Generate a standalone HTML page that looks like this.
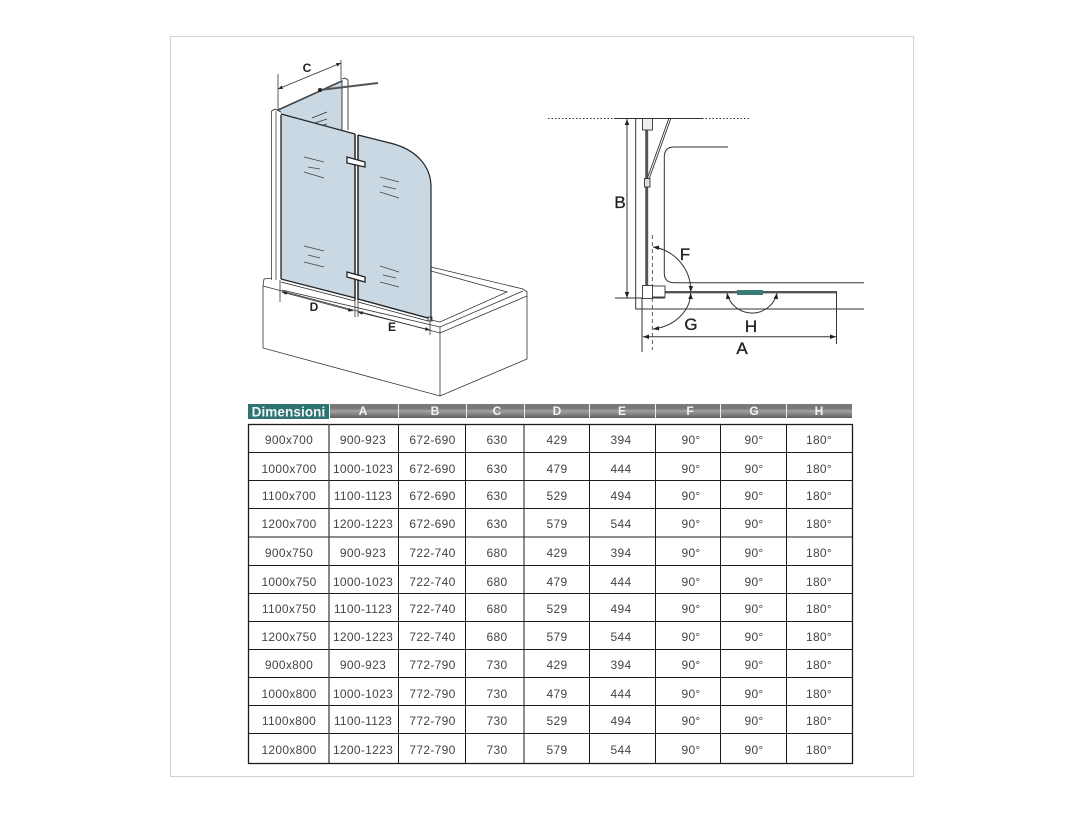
<!DOCTYPE html>
<html>
<head>
<meta charset="utf-8">
<style>
html,body{margin:0;padding:0;background:#fff}
svg{display:block;filter:blur(.3px)}
text{font-family:"Liberation Sans",Arial,sans-serif}
.t text{font-size:12px;fill:#444;text-anchor:middle;letter-spacing:.3px}
.h text{font-size:12px;font-weight:bold;fill:#f4f4f4;text-anchor:middle}
.l{font-size:17px;fill:#222;stroke:#222;stroke-width:.35;text-anchor:middle}
.s{font-size:12px;font-weight:bold;fill:#222;text-anchor:middle}
</style>
</head>
<body>
<svg width="1084" height="813" viewBox="0 0 1084 813" xmlns="http://www.w3.org/2000/svg">
<defs>
<linearGradient id="hd" x1="0" y1="0" x2="0" y2="1">
<stop offset="0" stop-color="#7a7a7a"/><stop offset=".3" stop-color="#777"/><stop offset=".5" stop-color="#a0a0a0"/><stop offset=".65" stop-color="#8d8d8d"/><stop offset="1" stop-color="#5e5e5e"/>
</linearGradient>
<marker id="ar" viewBox="0 0 8 6" refX="8" refY="3" markerWidth="6" markerHeight="5" orient="auto-start-reverse"><path d="M0 0L8 3L0 6z" fill="#222"/></marker>
</defs>
<rect x="170.5" y="36.5" width="743" height="740" fill="#fff" stroke="#d2d2d2" stroke-width="1"/>

<!-- left drawing: tub -->
<g fill="none" stroke="#333" stroke-width=".8">
<path d="M263 286V348L440 396L527 359V296"/>
<path d="M440 333V396"/>
<path d="M263 286L440 333L527 296L527 292L523 289L431 267"/>
<path d="M263 286L264 279L272 278"/>
<path d="M282 290L440 327L523 291"/>
<path d="M431 271L507 292L440 322L431 320"/>
<path d="M440 333L440 327"/>
</g>
<!-- back panel -->
<polygon points="278,110 342,82 342,131 281,115" fill="#c9d8e3"/>
<g stroke="#333" stroke-width=".7" fill="none">
<path d="M312 118L327 112M315 123L327 119M320 126L327 124"/>
</g>
<g fill="none" stroke="#333" stroke-width=".9">
<path d="M342 80V131M348 80V130M342 79L345 78L348 80"/>
</g>
<path d="M278 110L342 81" stroke="#444" stroke-width="1.6" fill="none"/>
<path d="M320 90L378 83" stroke="#555" stroke-width="2" fill="none"/>
<circle cx="320" cy="90" r="2" fill="#222"/>
<!-- front panels -->
<polygon points="281,115 355,134 355,298 281,278" fill="#c9d8e3"/>
<path d="M358 135L390 143C415 149 431 165 431 187V320L358 299Z" fill="#c9d8e3"/>
<g fill="none" stroke="#222">
<path d="M281 114L355 134" stroke-width="1.2"/>
<path d="M358 135L390 143C415 149 431 165 431 187V320" stroke-width="1.2"/>
<path d="M281 115V279" stroke-width="1.3"/>
<path d="M355 134V300" stroke-width="1.5"/>
<path d="M358 135V300" stroke-width="1.5"/>
<path d="M271.5 111V280M276 111V280" stroke-width=".9" stroke="#555"/>
<path d="M271.5 111L275 109L281 112" stroke-width=".9"/>
<path d="M281 279L355 298" stroke-width="1.4"/>
<path d="M281 282L355 301" stroke-width=".7"/>
<path d="M358 299L428 318" stroke-width="1.4"/>
<path d="M358 302L428 321" stroke-width=".7"/>
<path d="M428 317h4v4h-4z" stroke-width=".8"/>
</g>
<!-- hash marks -->
<g stroke="#444" stroke-width=".8" fill="none">
<path d="M304 157L324 162M308 167L320 169M304 172L324 178"/>
<path d="M380 177L399 182M383 186L396 189M380 192L399 198"/>
<path d="M304 246L324 251M308 255L320 258M304 262L324 267"/>
<path d="M380 266L399 272M383 275L396 278M380 282L399 287"/>
</g>
<!-- hinges -->
<g fill="#fff" stroke="#222" stroke-width="1.3">
<polygon points="347,157 365,162 365,167 347,163"/>
<polygon points="347,272 365,277 365,282 347,277"/>
</g>
<!-- left dims -->
<g stroke="#333" stroke-width=".8" fill="none">
<path d="M278 74V110M341 60V80"/>
<path d="M278 89L341 63" marker-start="url(#ar)" marker-end="url(#ar)"/>
<path d="M280 280V302M355 300V317M358 300V317M430 320V335"/>
<path d="M282 292L353 311" marker-start="url(#ar)" marker-end="url(#ar)"/>
<path d="M358 312L430 330" marker-start="url(#ar)" marker-end="url(#ar)"/>
</g>
<text class="s" x="307" y="72">C</text>
<text class="s" x="314" y="311">D</text>
<text class="s" x="392" y="331">E</text>

<!-- right drawing -->
<g fill="none" stroke="#333" stroke-width="1">
<path d="M548 118.5H750" stroke-dasharray="1.5 2" stroke-width="1"/>
<path d="M614 118.5H702"/>
<path d="M635.7 118V309H864" stroke-width="1"/>
<path d="M728 147H674Q664.3 147 664.3 157V273Q664.3 282.7 674 282.7H864" stroke-width="1"/>
<path d="M627 119V298" marker-start="url(#ar)" marker-end="url(#ar)"/>
<path d="M615 298H665"/>
<path d="M646.7 130V285" stroke="#555" stroke-width="3"/>
<path d="M669 118L646 182M671 118L648 182" stroke-width=".9"/>
<path d="M665 292.2H837" stroke="#555" stroke-width="2.4"/>
<path d="M652.3 235V350" stroke-dasharray="4 3" stroke-width=".8"/>
<path d="M642 298V352M836.5 292V344"/>
<path d="M643 336.7H836" marker-start="url(#ar)" marker-end="url(#ar)"/>
<path d="M653 247A44 44 0 0 1 690.7 292" marker-start="url(#ar)" marker-end="url(#ar)"/>
<path d="M690.7 293A44 37 0 0 1 653 329" marker-start="url(#ar)" marker-end="url(#ar)"/>
<path d="M727 293A25.5 25 0 0 0 777 293" marker-start="url(#ar)" marker-end="url(#ar)"/>
</g>
<g fill="#fff" stroke="#333" stroke-width=".9">
<rect x="642.5" y="118.5" width="10" height="11.5" fill="#eee"/>
<rect x="644.5" y="178.5" width="5.5" height="8.5" fill="#ddd"/>
<rect x="652" y="286" width="13" height="11"/>
<rect x="642.5" y="285.5" width="10" height="13"/>
</g>
<rect x="737" y="290" width="26" height="5" fill="#3a7a78"/>
<text class="l" x="620" y="208">B</text>
<text class="l" x="685" y="260">F</text>
<text class="l" x="691" y="330">G</text>
<text class="l" x="751" y="332">H</text>
<text class="l" x="742" y="354">A</text>

<!-- table header -->
<rect x="330" y="404" width="522" height="14" fill="url(#hd)"/>
<rect x="248" y="404" width="81" height="15" fill="#2f7370"/>
<g stroke="#eee" stroke-width="1"><path d="M398.5 404V418M466.5 404V418M524.5 404V418M589.5 404V418M655.5 404V418M720.5 404V418M786.5 404V418"/></g>
<text x="288.5" y="416.5" font-size="13.5" font-weight="bold" fill="#f2f7f7" text-anchor="middle" letter-spacing=".1">Dimensioni</text>
<g class="h">
<text x="363" y="415">A</text><text x="435" y="415">B</text><text x="497" y="415">C</text><text x="557" y="415">D</text><text x="622" y="415">E</text><text x="690" y="415">F</text><text x="754" y="415">G</text><text x="819" y="415">H</text>
</g>

<!-- table grid -->
<g stroke="#1c1c1c" stroke-width="1" fill="none">
<rect x="248.5" y="424.5" width="604" height="339" stroke-width="1.3"/>
<path d="M248 452.5H852M248 480.5H852M248 508.5H852M248 537H852M248 565.5H852M248 593.5H852M248 621.5H852M248 649.5H852M248 677.5H852M248 705.5H852M248 733.5H852"/>
<path d="M329 424V763" stroke="#444" stroke-width="1.3"/>
<path d="M398.5 424V763M465.5 424V763M524 424V763M589.5 424V763M655.5 424V763M720.5 424V763M786.5 424V763"/>
</g>

<!-- table text -->
<g class="t">
<g transform="translate(0,444)"><text x="289">900x700</text><text x="363">900-923</text><text x="432.5">672-690</text><text x="497">630</text><text x="557">429</text><text x="621">394</text><text x="691">90°</text><text x="754">90°</text><text x="819">180°</text></g>
<g transform="translate(0,473)"><text x="289">1000x700</text><text x="363">1000-1023</text><text x="432.5">672-690</text><text x="497">630</text><text x="557">479</text><text x="621">444</text><text x="691">90°</text><text x="754">90°</text><text x="819">180°</text></g>
<g transform="translate(0,500)"><text x="289">1100x700</text><text x="363">1100-1123</text><text x="432.5">672-690</text><text x="497">630</text><text x="557">529</text><text x="621">494</text><text x="691">90°</text><text x="754">90°</text><text x="819">180°</text></g>
<g transform="translate(0,528)"><text x="289">1200x700</text><text x="363">1200-1223</text><text x="432.5">672-690</text><text x="497">630</text><text x="557">579</text><text x="621">544</text><text x="691">90°</text><text x="754">90°</text><text x="819">180°</text></g>
<g transform="translate(0,557)"><text x="289">900x750</text><text x="363">900-923</text><text x="432.5">722-740</text><text x="497">680</text><text x="557">429</text><text x="621">394</text><text x="691">90°</text><text x="754">90°</text><text x="819">180°</text></g>
<g transform="translate(0,586)"><text x="289">1000x750</text><text x="363">1000-1023</text><text x="432.5">722-740</text><text x="497">680</text><text x="557">479</text><text x="621">444</text><text x="691">90°</text><text x="754">90°</text><text x="819">180°</text></g>
<g transform="translate(0,613)"><text x="289">1100x750</text><text x="363">1100-1123</text><text x="432.5">722-740</text><text x="497">680</text><text x="557">529</text><text x="621">494</text><text x="691">90°</text><text x="754">90°</text><text x="819">180°</text></g>
<g transform="translate(0,641)"><text x="289">1200x750</text><text x="363">1200-1223</text><text x="432.5">722-740</text><text x="497">680</text><text x="557">579</text><text x="621">544</text><text x="691">90°</text><text x="754">90°</text><text x="819">180°</text></g>
<g transform="translate(0,669)"><text x="289">900x800</text><text x="363">900-923</text><text x="432.5">772-790</text><text x="497">730</text><text x="557">429</text><text x="621">394</text><text x="691">90°</text><text x="754">90°</text><text x="819">180°</text></g>
<g transform="translate(0,698)"><text x="289">1000x800</text><text x="363">1000-1023</text><text x="432.5">772-790</text><text x="497">730</text><text x="557">479</text><text x="621">444</text><text x="691">90°</text><text x="754">90°</text><text x="819">180°</text></g>
<g transform="translate(0,725)"><text x="289">1100x800</text><text x="363">1100-1123</text><text x="432.5">772-790</text><text x="497">730</text><text x="557">529</text><text x="621">494</text><text x="691">90°</text><text x="754">90°</text><text x="819">180°</text></g>
<g transform="translate(0,754)"><text x="289">1200x800</text><text x="363">1200-1223</text><text x="432.5">772-790</text><text x="497">730</text><text x="557">579</text><text x="621">544</text><text x="691">90°</text><text x="754">90°</text><text x="819">180°</text></g>
</g>
</svg>
</body>
</html>
